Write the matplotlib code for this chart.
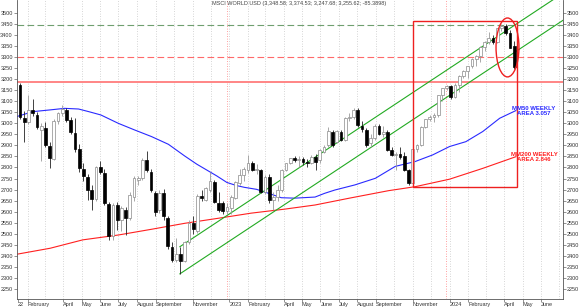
import numpy as np
import pandas as pd
import matplotlib
matplotlib.use("Agg")
import matplotlib.pyplot as plt
import matplotlib.dates as mdates
from matplotlib.patches import Rectangle, Ellipse

plt.rcParams['font.family'] = ['Liberation Sans', 'DejaVu Sans']

# weekly candles, MSCI World USD
first_week = "2022-01-19"
opens = [3172, 3025, 3005, 3062, 3040, 2972, 2980, 2897, 2840, 3010,
         3045, 3061, 3015, 2958, 2883, 2795, 2759, 2700, 2656, 2801,
         2775, 2636, 2490, 2628, 2562, 2608, 2570, 2665, 2745, 2751,
         2834, 2781, 2683, 2608, 2683, 2570, 2440, 2381, 2410, 2376,
         2463, 2550, 2512, 2671, 2653, 2700, 2736, 2640, 2640, 2605,
         2615, 2661, 2730, 2765, 2790, 2819, 2789, 2790, 2691, 2759,
         2653, 2668, 2698, 2789, 2819, 2842, 2835, 2840, 2827, 2820,
         2849, 2834, 2872, 2902, 2963, 2917, 2963, 2925, 3023, 3030,
         3061, 2990, 2970, 2910, 2935, 2988, 2950, 2963, 2880, 2857,
         2862, 2850, 2789, 2731, 2883, 2902, 2985, 3018, 3028, 3038,
         3129, 3159, 3169, 3121, 3175, 3216, 3235, 3258, 3290, 3305,
         3345, 3370, 3385, 3368, 3430, 3441, 3408, 3348.58]
highs = [3182, 3055, 3128, 3112, 3052, 3000, 3005, 2915, 3020, 3052,
         3083, 3068, 3030, 3023, 2905, 2822, 2772, 2722, 2806, 2830,
         2792, 2645, 2640, 2645, 2625, 2620, 2690, 2760, 2762, 2845,
         2876, 2792, 2692, 2700, 2702, 2580, 2462, 2480, 2441, 2468,
         2560, 2578, 2680, 2700, 2712, 2781, 2745, 2690, 2650, 2640,
         2675, 2740, 2795, 2800, 2857, 2830, 2815, 2795, 2765, 2770,
         2690, 2720, 2795, 2822, 2845, 2850, 2850, 2848, 2840, 2855,
         2860, 2885, 2900, 2985, 2970, 2972, 2970, 3028, 3045, 3071,
         3070, 3010, 2978, 2950, 2995, 2995, 2990, 2970, 2895, 2870,
         2895, 2872, 2795, 2885, 2905, 2990, 3020, 3040, 3045, 3130,
         3160, 3175, 3172, 3185, 3220, 3240, 3262, 3295, 3310, 3350,
         3372, 3415, 3400, 3432, 3450, 3450, 3425, 3374.53]
lows = [3020, 2915, 2995, 3035, 2975, 2828, 2895, 2797, 2832, 2995,
        3035, 3005, 2950, 2870, 2780, 2740, 2653, 2608, 2650, 2770,
        2630, 2472, 2470, 2517, 2510, 2495, 2560, 2650, 2720, 2745,
        2780, 2690, 2580, 2595, 2560, 2432, 2370, 2372, 2318, 2370,
        2455, 2500, 2505, 2650, 2648, 2690, 2640, 2600, 2590, 2590,
        2590, 2655, 2720, 2740, 2775, 2785, 2770, 2685, 2680, 2640,
        2608, 2650, 2690, 2785, 2815, 2825, 2800, 2810, 2800, 2815,
        2789, 2820, 2865, 2895, 2895, 2910, 2920, 2920, 3010, 3020,
        2985, 2960, 2895, 2895, 2925, 2945, 2940, 2875, 2850, 2790,
        2840, 2785, 2721, 2725, 2870, 2898, 2980, 3010, 3005, 3030,
        3100, 3150, 3110, 3115, 3140, 3205, 3205, 3250, 3260, 3280,
        3330, 3360, 3360, 3362, 3420, 3400, 3340, 3247.68]
closes = [3027, 3008, 3062, 3047, 2985, 2987, 2902, 2842, 3012, 3045,
          3064, 3015, 2959, 2883, 2797, 2762, 2698, 2655, 2801, 2781,
          2638, 2490, 2630, 2562, 2615, 2570, 2676, 2751, 2752, 2834,
          2789, 2698, 2600, 2683, 2578, 2442, 2381, 2410, 2376, 2463,
          2550, 2520, 2671, 2660, 2706, 2740, 2645, 2608, 2605, 2620,
          2668, 2736, 2765, 2792, 2819, 2789, 2795, 2691, 2759, 2653,
          2668, 2700, 2789, 2819, 2842, 2835, 2840, 2827, 2820, 2849,
          2827, 2879, 2892, 2967, 2902, 2967, 2925, 3023, 3030, 3061,
          2993, 2975, 2902, 2935, 2988, 2952, 2963, 2880, 2857, 2862,
          2848, 2789, 2731, 2883, 2902, 2985, 3018, 3030, 3038, 3129,
          3159, 3169, 3121, 3175, 3216, 3235, 3258, 3290, 3305, 3345,
          3370, 3385, 3368, 3430, 3441, 3408, 3341, 3255.62]

# moving averages
ma50_dates = ["2022-01-14", "2022-02-09", "2022-03-10", "2022-04-03", "2022-04-26",
              "2022-05-13", "2022-06-02", "2022-07-01", "2022-07-28", "2022-08-25",
              "2022-09-22", "2022-10-19", "2022-11-08", "2022-12-11", "2022-12-28",
              "2023-01-13", "2023-01-26", "2023-02-15", "2023-03-07", "2023-03-28",
              "2023-04-19", "2023-05-23", "2023-06-08", "2023-06-25", "2023-07-28",
              "2023-08-31", "2023-10-03", "2023-11-05", "2023-12-04", "2024-01-01",
              "2024-01-28", "2024-02-25", "2024-03-24", "2024-04-20"]
ma50_vals = [3031, 3053, 3061, 3068, 3065, 3053, 3038, 3000, 2970, 2940,
             2905, 2852, 2815, 2762, 2732, 2718, 2710, 2701, 2683, 2663,
             2661, 2666, 2683, 2698, 2721, 2751, 2805, 2827, 2857, 2895,
             2917, 2963, 3023, 3058]
ma200_dates = ["2022-01-14", "2022-03-10", "2022-05-03", "2022-07-01", "2022-08-25",
               "2022-10-19", "2022-12-14", "2023-02-06", "2023-04-02", "2023-05-23",
               "2023-07-19", "2023-09-22", "2023-11-05", "2024-01-01", "2024-02-25",
               "2024-04-20"]
ma200_vals = [2407, 2434, 2472, 2494, 2520, 2547, 2570, 2593, 2611, 2630,
              2661, 2695, 2713, 2747, 2796, 2849]

# drawn annotations
channel_dates = ["2022-10-11", "2024-07-07"]
channel_upper = [2441, 3590]
channel_lower = [2318, 3467]
level_green = 3446
level_red_dash = 3302
level_red = 3186
year_marks = ["2022-12-28", "2023-12-26"]
box_dates = ["2023-11-01", "2024-04-22"]
box_vals = [2711, 3464]
ellipse_center = ("2024-04-06", 3344)
ellipse_size = (38, 267)

tick_dates = ["2022-01-15", "2022-02-01", "2022-04-01", "2022-05-01", "2022-06-01",
              "2022-07-01", "2022-08-01", "2022-09-01", "2022-11-01", "2023-01-01",
              "2023-02-01", "2023-04-01", "2023-05-01", "2023-06-01", "2023-07-01",
              "2023-08-01", "2023-09-01", "2023-11-01", "2024-01-01", "2024-02-01",
              "2024-04-01", "2024-05-01", "2024-06-01"]
tick_labels = ["22", "February", "April", "May", "June", "July", "August", "September",
               "November", "2023", "February", "April", "May", "June", "July", "August",
               "September", "November", "2024", "February", "April", "May", "June"]

title = "MSCI WORLD USD (3,348.58; 3,374.53; 3,247.68; 3,255.62; -85.3898)"

# -------------------------
W, H = 580, 307
fig = plt.figure(figsize=(W / 100, H / 100), dpi=100)
ax = fig.add_axes([17 / W, 8 / H, 546 / W, 299 / H])

x0 = mdates.date2num(pd.Timestamp("2022-01-14"))
x1 = mdates.date2num(pd.Timestamp("2024-07-07"))
ax.set_xlim(x0, x1)
ax.set_ylim(2204, 3559)

# month grid
months = pd.date_range("2022-02-01", "2024-07-01", freq="MS")
for m in months:
    ax.axvline(mdates.date2num(m), color="#c8c8c8", lw=0.6, ls=(0, (1, 2)), zorder=0)
for d in year_marks:
    ax.axvline(mdates.date2num(pd.Timestamp(d)), color="#ff8080", lw=0.6, ls=(0, (1, 2)), zorder=0)

ax.axhline(level_green, color="#6f9f6f", lw=0.8, ls=(0, (6, 3)), zorder=1)
ax.axhline(level_red_dash, color="#ff6a6a", lw=0.8, ls=(0, (6, 3)), zorder=1)
ax.axhline(level_red, color="#ff8585", lw=1.4, zorder=1)

# moving averages
ax.plot(mdates.date2num(pd.to_datetime(ma50_dates)), ma50_vals, color="#2a2aff", lw=0.8, zorder=2)
ax.plot(mdates.date2num(pd.to_datetime(ma200_dates)), ma200_vals, color="#ff2020", lw=0.8, zorder=2)

# channel
cx = mdates.date2num(pd.to_datetime(channel_dates))
ax.plot(cx, channel_upper, color="#22aa22", lw=0.8, zorder=3)
ax.plot(cx, channel_lower, color="#22aa22", lw=0.8, zorder=3)

# candles
dates = pd.date_range(first_week, periods=len(closes), freq="7D")
x = mdates.date2num(dates)
o = np.array(opens, dtype=float)
c = np.array(closes, dtype=float)
hi = np.array(highs, dtype=float)
lo = np.array(lows, dtype=float)
up = c >= o
ax.vlines(x[up], lo[up], hi[up], color="#9a9a9a", lw=0.6, zorder=4)
ax.vlines(x[~up], lo[~up], hi[~up], color="#222222", lw=0.6, zorder=4)
body = np.maximum(np.abs(c - o), 3)
bottom = np.minimum(o, c)
ax.bar(x[up], body[up], bottom=bottom[up], width=4.6, color="white",
       edgecolor="#8a8a8a", lw=0.5, zorder=5)
ax.bar(x[~up], body[~up], bottom=bottom[~up], width=4.6, color="black",
       edgecolor="black", lw=0.5, zorder=5)

# box and ellipse
bx = mdates.date2num(pd.to_datetime(box_dates))
ax.add_patch(Rectangle((bx[0], box_vals[0]), bx[1] - bx[0], box_vals[1] - box_vals[0],
                       fill=False, edgecolor="#ee2020", lw=1.0, zorder=6))
ex = mdates.date2num(pd.Timestamp(ellipse_center[0]))
ax.add_patch(Ellipse((ex, ellipse_center[1]), ellipse_size[0], ellipse_size[1],
                     fill=False, edgecolor="#ee2020", lw=1.0, zorder=6))

lab_x = mdates.date2num(pd.Timestamp("2024-05-20"))
ax.text(lab_x, 3056, "MM50 WEEKLY\nAREA 3.057", color="#2a2aff", fontsize=4.3,
        fontweight="bold", ha="center", va="center", linespacing=1.1, zorder=7)
ax.text(lab_x, 2848, "MM200 WEEKLY\nAREA 2.846", color="#ff2020", fontsize=4.3,
        fontweight="bold", ha="center", va="center", linespacing=1.1, zorder=7)

ax.text(0.516, 0.995, title, transform=ax.transAxes, ha="center", va="top",
        fontsize=4.0, color="#444444", zorder=7)

# axes styling
ax.set_yticks(np.arange(2250, 3501, 50))
ax.tick_params(axis="y", which="both", left=True, right=True, labelleft=True,
               labelright=True, labelsize=4.0, labelcolor="#333333", length=2,
               width=0.5, color="#666666", pad=1)
ax.set_xticks(mdates.date2num(pd.to_datetime(tick_dates)))
ax.set_xticklabels(tick_labels, ha="left")
ax.tick_params(axis="x", labelsize=4.0, labelcolor="#333333", length=2,
               width=0.5, color="#666666", pad=0.5)
for lbl in ax.get_xticklabels():
    lbl.set_horizontalalignment("left")

for side in ["left", "right", "bottom"]:
    ax.spines[side].set_color("#555555")
    ax.spines[side].set_linewidth(0.6)
ax.spines["top"].set_visible(False)

fig.savefig("out.png", dpi=100)
